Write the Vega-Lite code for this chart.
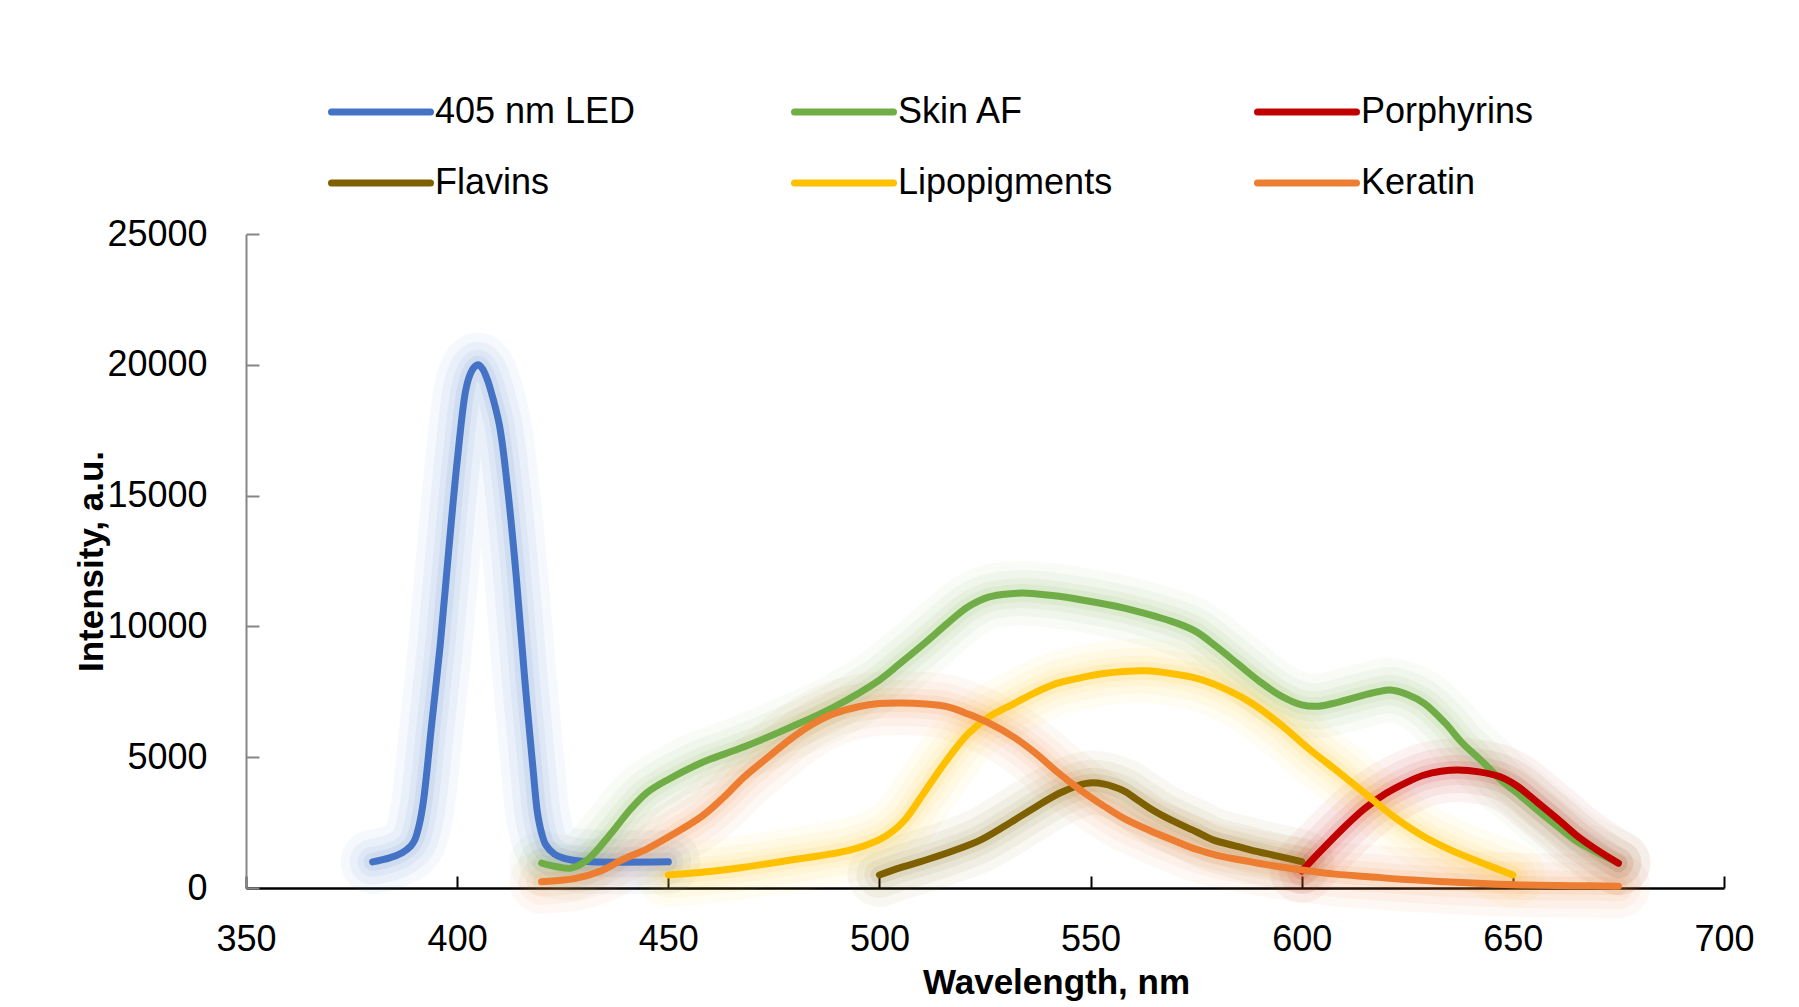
{
  "$schema": "https://vega.github.io/schema/vega-lite/v6.json",
  "width": 1478,
  "height": 654,
  "autosize": {"type": "none"},
  "padding": {"left": 246, "top": 234, "right": 75, "bottom": 119},
  "background": "white",
  "config": {"view": {"stroke": null}, "font": "Liberation Sans, Arial, sans-serif"},
  "data": {"values": [
    {"s":"405 nm LED","x":380,"y":1000},{"s":"405 nm LED","x":384,"y":1150},{"s":"405 nm LED","x":387,"y":1350},{"s":"405 nm LED","x":389,"y":1600},{"s":"405 nm LED","x":390,"y":1850},{"s":"405 nm LED","x":391,"y":2400},{"s":"405 nm LED","x":392,"y":3300},{"s":"405 nm LED","x":394,"y":6300},{"s":"405 nm LED","x":396,"y":9300},{"s":"405 nm LED","x":398,"y":12900},{"s":"405 nm LED","x":400,"y":16300},{"s":"405 nm LED","x":402,"y":19000},{"s":"405 nm LED","x":403,"y":19600},{"s":"405 nm LED","x":404,"y":19900},{"s":"405 nm LED","x":405,"y":20000},{"s":"405 nm LED","x":406,"y":19850},{"s":"405 nm LED","x":407,"y":19500},{"s":"405 nm LED","x":408,"y":19000},{"s":"405 nm LED","x":410,"y":17700},{"s":"405 nm LED","x":412,"y":15200},{"s":"405 nm LED","x":414,"y":11900},{"s":"405 nm LED","x":416,"y":8000},{"s":"405 nm LED","x":418,"y":4500},{"s":"405 nm LED","x":419,"y":2900},{"s":"405 nm LED","x":420,"y":2100},{"s":"405 nm LED","x":421,"y":1650},{"s":"405 nm LED","x":423,"y":1300},{"s":"405 nm LED","x":425,"y":1150},{"s":"405 nm LED","x":428,"y":1050},{"s":"405 nm LED","x":432,"y":1000},{"s":"405 nm LED","x":450,"y":1000},

    {"s":"Skin AF","x":420,"y":950},{"s":"Skin AF","x":424,"y":800},{"s":"Skin AF","x":427,"y":760},{"s":"Skin AF","x":431,"y":1100},{"s":"Skin AF","x":436,"y":2000},{"s":"Skin AF","x":441,"y":3000},{"s":"Skin AF","x":445,"y":3650},{"s":"Skin AF","x":450,"y":4150},{"s":"Skin AF","x":458,"y":4800},{"s":"Skin AF","x":468,"y":5400},{"s":"Skin AF","x":479,"y":6150},{"s":"Skin AF","x":489,"y":6900},{"s":"Skin AF","x":500,"y":7950},{"s":"Skin AF","x":505,"y":8600},{"s":"Skin AF","x":511,"y":9400},{"s":"Skin AF","x":516,"y":10100},{"s":"Skin AF","x":521,"y":10750},{"s":"Skin AF","x":526,"y":11130},{"s":"Skin AF","x":531,"y":11250},{"s":"Skin AF","x":535,"y":11270},{"s":"Skin AF","x":541,"y":11180},{"s":"Skin AF","x":548,"y":11010},{"s":"Skin AF","x":558,"y":10700},{"s":"Skin AF","x":565,"y":10400},{"s":"Skin AF","x":570,"y":10150},{"s":"Skin AF","x":575,"y":9800},{"s":"Skin AF","x":580,"y":9200},{"s":"Skin AF","x":585,"y":8550},{"s":"Skin AF","x":590,"y":7900},{"s":"Skin AF","x":595,"y":7350},{"s":"Skin AF","x":600,"y":7000},{"s":"Skin AF","x":604,"y":6950},{"s":"Skin AF","x":608,"y":7080},{"s":"Skin AF","x":613,"y":7300},{"s":"Skin AF","x":618,"y":7500},{"s":"Skin AF","x":621,"y":7570},{"s":"Skin AF","x":625,"y":7400},{"s":"Skin AF","x":629,"y":7060},{"s":"Skin AF","x":634,"y":6300},{"s":"Skin AF","x":638,"y":5550},{"s":"Skin AF","x":643,"y":4800},{"s":"Skin AF","x":647,"y":4150},{"s":"Skin AF","x":652,"y":3500},{"s":"Skin AF","x":656,"y":2950},{"s":"Skin AF","x":661,"y":2300},{"s":"Skin AF","x":665,"y":1800},{"s":"Skin AF","x":670,"y":1350},{"s":"Skin AF","x":675,"y":950},

    {"s":"Porphyrins","x":600,"y":650},{"s":"Porphyrins","x":605,"y":1500},{"s":"Porphyrins","x":611,"y":2470},{"s":"Porphyrins","x":615,"y":3050},{"s":"Porphyrins","x":620,"y":3620},{"s":"Porphyrins","x":625,"y":4050},{"s":"Porphyrins","x":629,"y":4320},{"s":"Porphyrins","x":633,"y":4460},{"s":"Porphyrins","x":637,"y":4510},{"s":"Porphyrins","x":642,"y":4440},{"s":"Porphyrins","x":647,"y":4250},{"s":"Porphyrins","x":651,"y":3900},{"s":"Porphyrins","x":656,"y":3250},{"s":"Porphyrins","x":661,"y":2580},{"s":"Porphyrins","x":665,"y":2020},{"s":"Porphyrins","x":670,"y":1450},{"s":"Porphyrins","x":675,"y":950},

    {"s":"Flavins","x":500,"y":500},{"s":"Flavins","x":505,"y":780},{"s":"Flavins","x":511,"y":1070},{"s":"Flavins","x":518,"y":1450},{"s":"Flavins","x":524,"y":1840},{"s":"Flavins","x":530,"y":2400},{"s":"Flavins","x":537,"y":3100},{"s":"Flavins","x":543,"y":3650},{"s":"Flavins","x":549,"y":4000},{"s":"Flavins","x":553,"y":3980},{"s":"Flavins","x":558,"y":3700},{"s":"Flavins","x":561,"y":3380},{"s":"Flavins","x":565,"y":2950},{"s":"Flavins","x":569,"y":2600},{"s":"Flavins","x":575,"y":2150},{"s":"Flavins","x":579,"y":1840},{"s":"Flavins","x":584,"y":1620},{"s":"Flavins","x":588,"y":1450},{"s":"Flavins","x":594,"y":1230},{"s":"Flavins","x":600,"y":1010},

    {"s":"Lipopigments","x":450,"y":500},{"s":"Lipopigments","x":463,"y":690},{"s":"Lipopigments","x":479,"y":1070},{"s":"Lipopigments","x":493,"y":1450},{"s":"Lipopigments","x":500,"y":1850},{"s":"Lipopigments","x":503,"y":2150},{"s":"Lipopigments","x":506,"y":2600},{"s":"Lipopigments","x":511,"y":3750},{"s":"Lipopigments","x":516,"y":4900},{"s":"Lipopigments","x":521,"y":5900},{"s":"Lipopigments","x":526,"y":6550},{"s":"Lipopigments","x":532,"y":7060},{"s":"Lipopigments","x":537,"y":7480},{"s":"Lipopigments","x":542,"y":7820},{"s":"Lipopigments","x":548,"y":8050},{"s":"Lipopigments","x":553,"y":8200},{"s":"Lipopigments","x":558,"y":8280},{"s":"Lipopigments","x":563,"y":8300},{"s":"Lipopigments","x":569,"y":8200},{"s":"Lipopigments","x":575,"y":8020},{"s":"Lipopigments","x":582,"y":7600},{"s":"Lipopigments","x":588,"y":7080},{"s":"Lipopigments","x":595,"y":6250},{"s":"Lipopigments","x":602,"y":5280},{"s":"Lipopigments","x":609,"y":4400},{"s":"Lipopigments","x":616,"y":3480},{"s":"Lipopigments","x":622,"y":2700},{"s":"Lipopigments","x":629,"y":1960},{"s":"Lipopigments","x":636,"y":1400},{"s":"Lipopigments","x":643,"y":940},{"s":"Lipopigments","x":650,"y":500},

    {"s":"Keratin","x":420,"y":240},{"s":"Keratin","x":428,"y":370},{"s":"Keratin","x":434,"y":650},{"s":"Keratin","x":439,"y":1070},{"s":"Keratin","x":445,"y":1500},{"s":"Keratin","x":450,"y":1950},{"s":"Keratin","x":458,"y":2750},{"s":"Keratin","x":463,"y":3450},{"s":"Keratin","x":468,"y":4250},{"s":"Keratin","x":474,"y":5050},{"s":"Keratin","x":479,"y":5700},{"s":"Keratin","x":484,"y":6250},{"s":"Keratin","x":489,"y":6650},{"s":"Keratin","x":495,"y":6930},{"s":"Keratin","x":500,"y":7050},{"s":"Keratin","x":505,"y":7070},{"s":"Keratin","x":511,"y":7030},{"s":"Keratin","x":516,"y":6930},{"s":"Keratin","x":521,"y":6650},{"s":"Keratin","x":526,"y":6300},{"s":"Keratin","x":532,"y":5750},{"s":"Keratin","x":537,"y":5150},{"s":"Keratin","x":542,"y":4450},{"s":"Keratin","x":548,"y":3700},{"s":"Keratin","x":553,"y":3150},{"s":"Keratin","x":558,"y":2650},{"s":"Keratin","x":564,"y":2200},{"s":"Keratin","x":570,"y":1800},{"s":"Keratin","x":575,"y":1480},{"s":"Keratin","x":580,"y":1250},{"s":"Keratin","x":588,"y":1000},{"s":"Keratin","x":594,"y":830},{"s":"Keratin","x":600,"y":690},{"s":"Keratin","x":608,"y":530},{"s":"Keratin","x":616,"y":430},{"s":"Keratin","x":625,"y":320},{"s":"Keratin","x":634,"y":240},{"s":"Keratin","x":643,"y":170},{"s":"Keratin","x":652,"y":115},{"s":"Keratin","x":664,"y":90},{"s":"Keratin","x":675,"y":70}
  ]},
  "encoding": {
    "x": {
      "field": "x", "type": "quantitative",
      "scale": {"domain": [350, 700], "nice": false, "zero": false},
      "axis": {
        "title": "Wavelength, nm",
        "values": [350, 400, 450, 500, 550, 600, 650, 700],
        "grid": false,
        "domainColor": "black", "domainWidth": 2.5,
        "tickColor": "black", "tickWidth": 2, "tickSize": -12,
        "labelFontSize": 36, "labelColor": "black", "labelPadding": 46,
        "labelFlush": false,
        "titleFontSize": 35, "titleFontWeight": "bold", "titleColor": "black",
        "titleX": 810, "titleY": 105, "titleBaseline": "alphabetic", "titleAlign": "center"
      }
    },
    "y": {
      "field": "y", "type": "quantitative",
      "scale": {"domain": [0, 25000], "nice": false},
      "axis": {
        "title": "Intensity, a.u.",
        "values": [0, 5000, 10000, 15000, 20000, 25000],
        "format": "d",
        "grid": false,
        "domainColor": "#868686", "domainWidth": 2,
        "tickColor": "#868686", "tickWidth": 2, "tickSize": -13,
        "labelFontSize": 36, "labelColor": "black", "labelPadding": 52,
        "labelFlush": false,
        "titleFontSize": 35, "titleFontWeight": "bold", "titleColor": "black",
        "titleAngle": -90, "titleX": -144, "titleY": 327, "titleBaseline": "alphabetic", "titleAlign": "center"
      }
    },
    "color": {"field": "s", "type": "nominal",
      "scale": {"domain": ["405 nm LED", "Skin AF", "Porphyrins", "Flavins", "Lipopigments", "Keratin"], "range": ["#4472C4", "#70AD47", "#C00000", "#7F6000", "#FFC000", "#ED7D31"]},
      "legend": {
        "title": null, "orient": "none", "legendX": 82, "legendY": -175,
        "direction": "horizontal", "gridAlign": "all",
        "columns": 3, "columnPadding": 130, "rowPadding": -19,
        "symbolType": "stroke", "symbolSize": 9801, "symbolStrokeWidth": 7,
        "labelOffset": 1, "labelFontSize": 36, "labelColor": "black", "labelLimit": 400,
        "encode": {"symbols": {"update": {"opacity": {"value": 1}, "strokeWidth": {"value": 7}, "strokeCap": {"value": "round"}}}}
      }
    }
  },
  "layer": [
    {
      "mark": {"type": "line", "interpolate": "catmull-rom", "strokeWidth": 64, "opacity": 0.05, "strokeCap": "round", "strokeJoin": "round"}
    },
    {
      "mark": {"type": "line", "interpolate": "catmull-rom", "strokeWidth": 46, "opacity": 0.06, "strokeCap": "round", "strokeJoin": "round"}
    },
    {
      "mark": {"type": "line", "interpolate": "catmull-rom", "strokeWidth": 30, "opacity": 0.07, "strokeCap": "round", "strokeJoin": "round"}
    },
    {
      "mark": {"type": "line", "interpolate": "catmull-rom", "strokeWidth": 18, "opacity": 0.09, "strokeCap": "round", "strokeJoin": "round"}
    },
    {
      "mark": {"type": "line", "interpolate": "catmull-rom", "strokeWidth": 7, "strokeCap": "round", "strokeJoin": "round"}
    }
  ]
}
